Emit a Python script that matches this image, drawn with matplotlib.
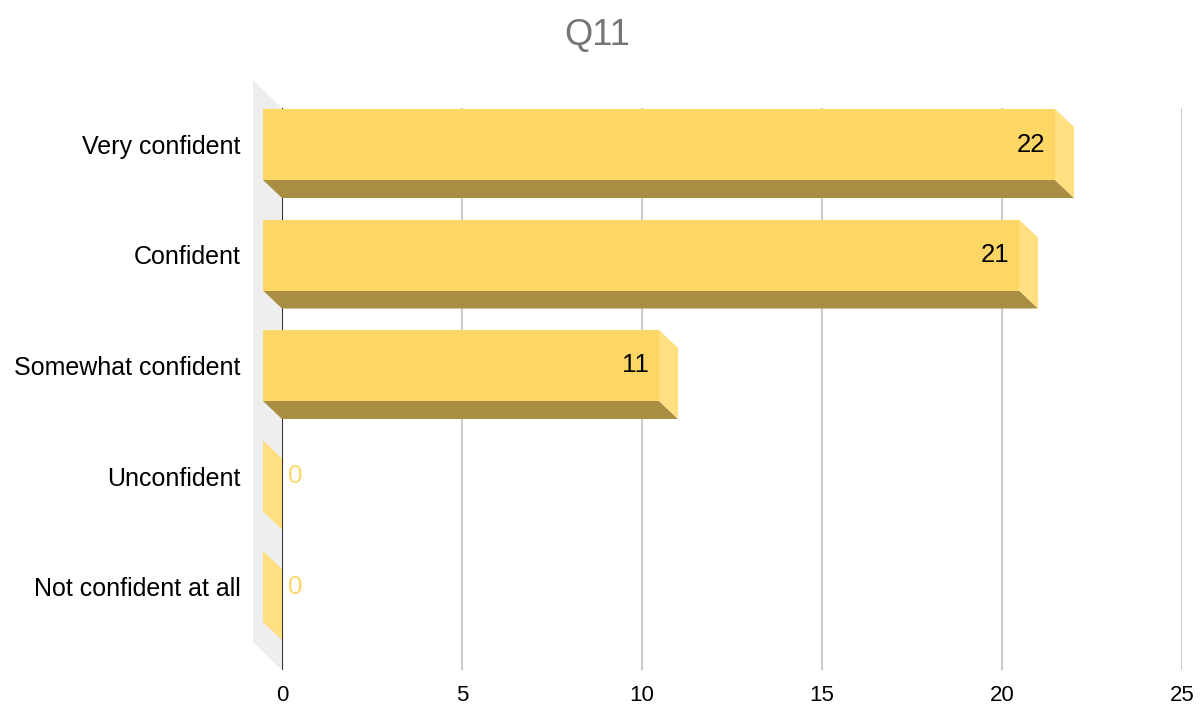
import matplotlib
matplotlib.use("Agg")
import matplotlib.pyplot as plt
from matplotlib.patches import Polygon

# ── Survey answers for Q11 ─────────────────────────────────────────
categories = ["Very confident", "Confident", "Somewhat confident",
              "Unconfident", "Not confident at all"]
counts = [22, 21, 11, 0, 0]
x_ticks = [0, 5, 10, 15, 20, 25]

# ── Look & geometry (pixels at dpi=100) ────────────────────────────
W, H = 1201, 706
AX_L, AX_R, AX_T, AX_B = 282, 1182, 108, 670
ROW_PX = 110.5          # distance between category rows
ROW0_PX = 162.5         # back-face centre of first row
BAR_PX = 71             # bar thickness
DEPTH_X, DEPTH_Y = 19, 18   # 3D extrusion offset
WALL_DX, WALL_DY = 29, 28

FRONT = "#fdd766"
BOTTOM = "#a88d42"
SIDE = "#ffdf80"
WALL = "#eeeeee"
GRID = "#cccccc"
FONT = "Liberation Sans"

plt.rcParams["font.family"] = [FONT, "DejaVu Sans"]

fig = plt.figure(figsize=(W / 100, H / 100), dpi=100)
ax = fig.add_axes([AX_L / W, (H - AX_B) / H, (AX_R - AX_L) / W, (AX_B - AX_T) / H])

xmax = 25
px_x = xmax / (AX_R - AX_L)      # data units per pixel, x
px_y = 1.0 / ROW_PX              # data units per pixel, y
y_top = (AX_T - ROW0_PX) * px_y
y_bot = (AX_B - ROW0_PX) * px_y
ax.set_xlim(0, xmax)
ax.set_ylim(y_bot, y_top)

dx = DEPTH_X * px_x
dy = DEPTH_Y * px_y
h = BAR_PX * px_y

# back wall on the left
wx, wy = WALL_DX * px_x, WALL_DY * px_y
ax.add_patch(Polygon([(-wx, y_top - wy), (0, y_top), (0, y_bot), (-wx, y_bot - wy)],
                     closed=True, fc=WALL, ec="none", clip_on=False, zorder=0))

for t in x_ticks[1:]:
    ax.axvline(t, color=GRID, lw=1.5, zorder=1)
ax.axvline(0, color="#333333", lw=1.5, zorder=1)

for i, v in enumerate(counts):
    c = i
    top, bot = c - h / 2, c + h / 2
    if v > 0:
        ax.add_patch(Polygon([(-dx, bot - dy), (v - dx, bot - dy), (v, bot), (0, bot)],
                             closed=True, fc=BOTTOM, ec="none", clip_on=False, zorder=2))
        ax.add_patch(Polygon([(-dx, top - dy), (v - dx, top - dy), (v - dx, bot - dy), (-dx, bot - dy)],
                             closed=True, fc=FRONT, ec="none", clip_on=False, zorder=3))
    ax.add_patch(Polygon([(v - dx, top - dy), (v, top), (v, bot), (v - dx, bot - dy)],
                         closed=True, fc=SIDE, ec="none", clip_on=False, zorder=3))
    if v > 0:
        ax.text(v - dx - 10 * px_x, c - dy, str(v), ha="right", va="center",
                fontsize=18.5, color="black", zorder=4)
    else:
        ax.text(6 * px_x, c - dy, str(v), ha="left", va="center",
                fontsize=18.5, color=FRONT, zorder=4)

ax.set_yticks([i - dy for i in range(len(categories))])
ax.set_yticklabels(categories, fontsize=18)
ax.set_xticks(x_ticks)
ax.set_xticklabels([str(t) for t in x_ticks], fontsize=16)
ax.tick_params(axis="y", length=0, pad=30)
ax.tick_params(axis="x", length=0, pad=11)
for s in ax.spines.values():
    s.set_visible(False)
ax.set_facecolor("none")

fig.text(597 / W, 1 - 36 / H, "Q11", ha="center", va="center",
         fontsize=26, color="#757575")

fig.savefig("out.png", dpi=100)
